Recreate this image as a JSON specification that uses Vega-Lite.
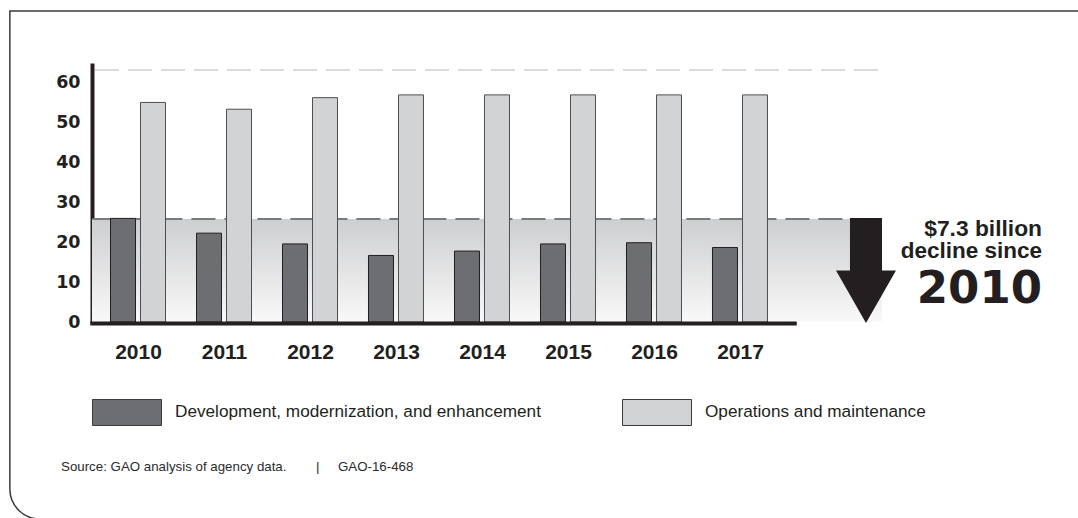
{
  "$schema": "https://vega.github.io/schema/vega-lite/v6.json",
  "autosize": {"type": "none"},
  "width": 958,
  "height": 259,
  "padding": {"left": 92, "top": 63, "right": 28, "bottom": 196},
  "background": "white",
  "config": {
    "view": {"stroke": null},
    "axisX": {"domain": false, "ticks": false, "grid": false, "labelFont": "Liberation Sans", "labelFontSize": 21, "labelFontWeight": "bold", "labelColor": "#231f20", "labelPadding": 19},
    "axisY": {"domain": true, "domainWidth": 4, "domainColor": "#231f20", "ticks": false, "grid": false, "labelFont": "DejaVu Sans", "labelFontSize": 17.5, "labelFontWeight": "bold", "labelColor": "#231f20", "labelPadding": 12},
    "legend": {
      "orient": "none", "legendX": 0, "legendY": 314, "direction": "horizontal",
      "symbolType": "M-1,-0.377L1,-0.377L1,0.377L-1,0.377Z", "symbolSize": 4761,
      "symbolStrokeColor": "#3a3a3a", "symbolStrokeWidth": 1, "symbolOpacity": 1,
      "labelFont": "Liberation Sans", "labelFontSize": 17.2, "labelColor": "#231f20",
      "labelOffset": 13, "columnPadding": 79, "labelLimit": 600
    }
  },
  "datasets": {
    "spend": [
      {"year": 2010, "series": "Development, modernization, and enhancement", "value": 26.0},
      {"year": 2011, "series": "Development, modernization, and enhancement", "value": 22.3},
      {"year": 2012, "series": "Development, modernization, and enhancement", "value": 19.6},
      {"year": 2013, "series": "Development, modernization, and enhancement", "value": 16.7},
      {"year": 2014, "series": "Development, modernization, and enhancement", "value": 17.8},
      {"year": 2015, "series": "Development, modernization, and enhancement", "value": 19.6},
      {"year": 2016, "series": "Development, modernization, and enhancement", "value": 19.9},
      {"year": 2017, "series": "Development, modernization, and enhancement", "value": 18.7},
      {"year": 2010, "series": "Operations and maintenance", "value": 55.1},
      {"year": 2011, "series": "Operations and maintenance", "value": 53.4},
      {"year": 2012, "series": "Operations and maintenance", "value": 56.3},
      {"year": 2013, "series": "Operations and maintenance", "value": 57.0},
      {"year": 2014, "series": "Operations and maintenance", "value": 57.0},
      {"year": 2015, "series": "Operations and maintenance", "value": 57.0},
      {"year": 2016, "series": "Operations and maintenance", "value": 57.0},
      {"year": 2017, "series": "Operations and maintenance", "value": 57.0}
    ]
  },
  "layer": [
    {
      "data": {"values": [{}]},
      "mark": {"type": "rect", "fill": null, "fillOpacity": 0, "stroke": "#3a3a3a", "strokeWidth": 1.5, "cornerRadiusBottomLeft": 30},
      "encoding": {
        "x": {"datum": 2008.51, "type": "quantitative", "scale": {"domain": [2009.4651, 2020.6047], "nice": false, "zero": false, "padding": 0}, "axis": {"values": [2010, 2011, 2012, 2013, 2014, 2015, 2016, 2017], "format": "d", "title": null}},
        "x2": {"datum": 2021.8},
        "y": {"datum": 78.05, "type": "quantitative", "scale": {"domain": [0, 65], "nice": false, "zero": true, "padding": 0}, "axis": {"values": [0, 10, 20, 30, 40, 50, 60], "title": null}},
        "y2": {"datum": -49.45}
      }
    },
    {
      "data": {"values": [{}]},
      "mark": {"type": "rect", "fill": {"gradient": "linear", "x1": 0, "y1": 0, "x2": 0, "y2": 1, "stops": [{"offset": 0, "color": "#cdced0"}, {"offset": 1, "color": "#f9f9f9"}]}},
      "encoding": {
        "x": {"datum": 2009.465, "type": "quantitative", "scale": {"domain": [2009.4651, 2020.6047], "nice": false, "zero": false, "padding": 0}, "axis": {"values": [2010, 2011, 2012, 2013, 2014, 2015, 2016, 2017], "format": "d", "title": null}},
        "x2": {"datum": 2018.65},
        "y": {"datum": 25.85, "type": "quantitative", "scale": {"domain": [0, 65], "nice": false, "zero": true, "padding": 0}, "axis": {"values": [0, 10, 20, 30, 40, 50, 60], "title": null}},
        "y2": {"datum": 0}
      }
    },
    {
      "data": {"values": [{}]},
      "mark": {"type": "rule", "stroke": "#d0d0d0", "strokeWidth": 1.5, "strokeDash": [24, 9]},
      "encoding": {
        "x": {"datum": 2009.5, "type": "quantitative", "scale": {"domain": [2009.4651, 2020.6047], "nice": false, "zero": false, "padding": 0}, "axis": {"values": [2010, 2011, 2012, 2013, 2014, 2015, 2016, 2017], "format": "d", "title": null}},
        "x2": {"datum": 2018.69},
        "y": {"datum": 63.24, "type": "quantitative", "scale": {"domain": [0, 65], "nice": false, "zero": true, "padding": 0}, "axis": {"values": [0, 10, 20, 30, 40, 50, 60], "title": null}}
      }
    },
    {
      "data": {"values": [{}]},
      "mark": {"type": "rule", "stroke": "#7a7b7d", "strokeWidth": 2, "strokeDash": [24, 9]},
      "encoding": {
        "x": {"datum": 2009.47, "type": "quantitative", "scale": {"domain": [2009.4651, 2020.6047], "nice": false, "zero": false, "padding": 0}, "axis": {"values": [2010, 2011, 2012, 2013, 2014, 2015, 2016, 2017], "format": "d", "title": null}},
        "x2": {"datum": 2018.3},
        "y": {"datum": 25.85, "type": "quantitative", "scale": {"domain": [0, 65], "nice": false, "zero": true, "padding": 0}, "axis": {"values": [0, 10, 20, 30, 40, 50, 60], "title": null}}
      }
    },
    {
      "data": {"name": "spend"},
      "transform": [{"filter": "datum.series === 'Development, modernization, and enhancement'"}],
      "mark": {"type": "bar", "width": 25, "xOffset": -15, "stroke": "#231f20", "strokeWidth": 1},
      "encoding": {
        "x": {"field": "year", "type": "quantitative", "scale": {"domain": [2009.4651, 2020.6047], "nice": false, "zero": false, "padding": 0}, "axis": {"values": [2010, 2011, 2012, 2013, 2014, 2015, 2016, 2017], "format": "d", "title": null}},
        "y": {"field": "value", "type": "quantitative", "scale": {"domain": [0, 65], "nice": false, "zero": true, "padding": 0}, "axis": {"values": [0, 10, 20, 30, 40, 50, 60], "title": null}},
        "color": {"field": "series", "type": "nominal", "title": null, "scale": {"domain": ["Development, modernization, and enhancement", "Operations and maintenance"], "range": ["#6d6e71", "#d1d3d4"]}}
      }
    },
    {
      "data": {"name": "spend"},
      "transform": [{"filter": "datum.series === 'Operations and maintenance'"}],
      "mark": {"type": "bar", "width": 25, "xOffset": 15, "stroke": "#4d4e50", "strokeWidth": 1},
      "encoding": {
        "x": {"field": "year", "type": "quantitative", "scale": {"domain": [2009.4651, 2020.6047], "nice": false, "zero": false, "padding": 0}, "axis": {"values": [2010, 2011, 2012, 2013, 2014, 2015, 2016, 2017], "format": "d", "title": null}},
        "y": {"field": "value", "type": "quantitative", "scale": {"domain": [0, 65], "nice": false, "zero": true, "padding": 0}, "axis": {"values": [0, 10, 20, 30, 40, 50, 60], "title": null}},
        "color": {"field": "series", "type": "nominal", "title": null, "scale": {"domain": ["Development, modernization, and enhancement", "Operations and maintenance"], "range": ["#6d6e71", "#d1d3d4"]}}
      }
    },
    {
      "data": {"values": [{}]},
      "mark": {"type": "rule", "stroke": "#231f20", "strokeWidth": 4, "yOffset": 1.5},
      "encoding": {
        "x": {"datum": 2009.445, "type": "quantitative", "scale": {"domain": [2009.4651, 2020.6047], "nice": false, "zero": false, "padding": 0}, "axis": {"values": [2010, 2011, 2012, 2013, 2014, 2015, 2016, 2017], "format": "d", "title": null}},
        "x2": {"datum": 2017.66},
        "y": {"datum": 0, "type": "quantitative", "scale": {"domain": [0, 65], "nice": false, "zero": true, "padding": 0}, "axis": {"values": [0, 10, 20, 30, 40, 50, 60], "title": null}}
      }
    },
    {
      "data": {"values": [{}]},
      "mark": {"type": "point", "shape": "M-0.305,-1L0.305,-1L0.305,0L0.571,0L0,1L-0.571,0L-0.305,0Z", "size": 11025, "filled": true, "fill": "#231f20", "opacity": 1, "strokeWidth": 0},
      "encoding": {
        "x": {"datum": 2018.465, "type": "quantitative", "scale": {"domain": [2009.4651, 2020.6047], "nice": false, "zero": false, "padding": 0}, "axis": {"values": [2010, 2011, 2012, 2013, 2014, 2015, 2016, 2017], "format": "d", "title": null}},
        "y": {"datum": 12.92, "type": "quantitative", "scale": {"domain": [0, 65], "nice": false, "zero": true, "padding": 0}, "axis": {"values": [0, 10, 20, 30, 40, 50, 60], "title": null}}
      }
    },
    {
      "data": {"values": [{}]},
      "mark": {"type": "text", "text": "$7.3 billion", "align": "right", "baseline": "alphabetic", "font": "Liberation Sans", "fontWeight": "bold", "fontSize": 22.8, "color": "#231f20"},
      "encoding": {
        "x": {"datum": 2020.512, "type": "quantitative", "scale": {"domain": [2009.4651, 2020.6047], "nice": false, "zero": false, "padding": 0}, "axis": {"values": [2010, 2011, 2012, 2013, 2014, 2015, 2016, 2017], "format": "d", "title": null}},
        "y": {"datum": 21.6, "type": "quantitative", "scale": {"domain": [0, 65], "nice": false, "zero": true, "padding": 0}, "axis": {"values": [0, 10, 20, 30, 40, 50, 60], "title": null}}
      }
    },
    {
      "data": {"values": [{}]},
      "mark": {"type": "text", "text": "decline since", "align": "right", "baseline": "alphabetic", "font": "Liberation Sans", "fontWeight": "bold", "fontSize": 22.5, "color": "#231f20"},
      "encoding": {
        "x": {"datum": 2020.512, "type": "quantitative", "scale": {"domain": [2009.4651, 2020.6047], "nice": false, "zero": false, "padding": 0}, "axis": {"values": [2010, 2011, 2012, 2013, 2014, 2015, 2016, 2017], "format": "d", "title": null}},
        "y": {"datum": 15.95, "type": "quantitative", "scale": {"domain": [0, 65], "nice": false, "zero": true, "padding": 0}, "axis": {"values": [0, 10, 20, 30, 40, 50, 60], "title": null}}
      }
    },
    {
      "data": {"values": [{}]},
      "mark": {"type": "text", "text": "2010", "align": "right", "baseline": "alphabetic", "font": "DejaVu Sans", "fontWeight": "bold", "fontSize": 45, "color": "#231f20"},
      "encoding": {
        "x": {"datum": 2020.512, "type": "quantitative", "scale": {"domain": [2009.4651, 2020.6047], "nice": false, "zero": false, "padding": 0}, "axis": {"values": [2010, 2011, 2012, 2013, 2014, 2015, 2016, 2017], "format": "d", "title": null}},
        "y": {"datum": 4.77, "type": "quantitative", "scale": {"domain": [0, 65], "nice": false, "zero": true, "padding": 0}, "axis": {"values": [0, 10, 20, 30, 40, 50, 60], "title": null}}
      }
    },
    {
      "data": {"values": [{}]},
      "mark": {"type": "text", "text": "Source: GAO analysis of agency data.\u00a0\u00a0\u00a0\u00a0\u00a0\u00a0\u00a0\u00a0|\u00a0\u00a0\u00a0\u00a0\u00a0GAO-16-468", "align": "left", "baseline": "alphabetic", "font": "Liberation Sans", "fontSize": 13.3, "color": "#2b2b2b"},
      "encoding": {
        "x": {"datum": 2009.105, "type": "quantitative", "scale": {"domain": [2009.4651, 2020.6047], "nice": false, "zero": false, "padding": 0}, "axis": {"values": [2010, 2011, 2012, 2013, 2014, 2015, 2016, 2017], "format": "d", "title": null}},
        "y": {"datum": -37.39, "type": "quantitative", "scale": {"domain": [0, 65], "nice": false, "zero": true, "padding": 0}, "axis": {"values": [0, 10, 20, 30, 40, 50, 60], "title": null}}
      }
    }
  ]
}
